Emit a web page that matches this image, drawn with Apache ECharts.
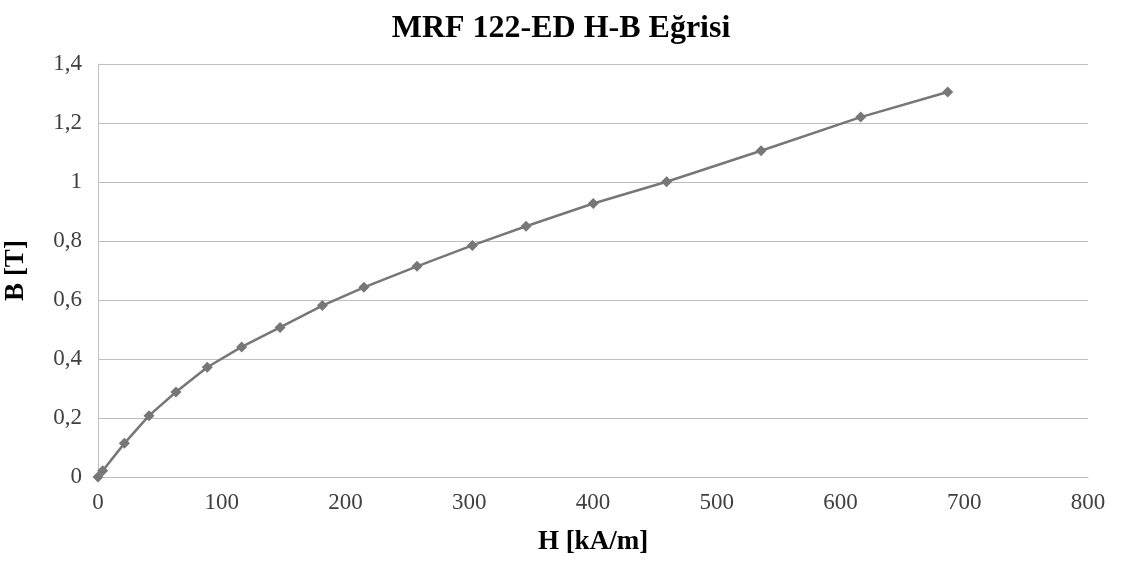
<!DOCTYPE html>
<html>
<head>
<meta charset="utf-8">
<script src="https://cdn.jsdelivr.net/npm/echarts@6/dist/echarts.min.js"></script>
<style>
  html, body { margin: 0; padding: 0; background: #fff; }
  #chart { width: 1122px; height: 563px; }
</style>
</head>
<body>
<div id="chart"></div>
<script>
// H [kA/m] ve B [T] değerleri
var hValues = [0, 3.8, 21.3, 41.2, 63.0, 88.3, 116.1, 147.1, 181.3, 214.9, 257.8, 302.5, 345.9, 400.2, 459.5, 535.8, 616.3, 686.6];
var bValues = [0, 0.021, 0.114, 0.208, 0.288, 0.372, 0.441, 0.507, 0.581, 0.643, 0.714, 0.785, 0.850, 0.927, 1.001, 1.106, 1.220, 1.305];

var serif = '"Liberation Serif", "DejaVu Serif", serif';

function commaLabel(v) {
  return String(+v.toFixed(1)).replace('.', ',');
}

var points = hValues.map(function (h, i) { return [h, bValues[i]]; });

var myChart = echarts.init(document.getElementById('chart'));
myChart.setOption({
  animation: false,
  title: {
    text: 'MRF 122-ED H-B Eğrisi',
    left: 'center',
    top: 8,
    textStyle: { fontFamily: serif, fontSize: 32, fontWeight: 'bold', color: '#000' }
  },
  grid: { left: 98, right: 34, top: 64, bottom: 86, outerBoundsMode: 'none' },
  xAxis: {
    type: 'value',
    min: 0,
    max: 800,
    interval: 100,
    name: 'H [kA/m]',
    nameLocation: 'middle',
    nameGap: 52,
    nameTextStyle: { fontFamily: serif, fontSize: 27, fontWeight: 'bold', color: '#000' },
    axisLine: { show: true, lineStyle: { color: '#bfbfbf', width: 1 } },
    axisTick: { show: false },
    axisLabel: { fontFamily: serif, fontSize: 23, color: '#404040', margin: 14 },
    splitLine: { show: false }
  },
  yAxis: {
    type: 'value',
    min: 0,
    max: 1.4,
    interval: 0.2,
    name: 'B [T]',
    nameLocation: 'middle',
    nameGap: 68,
    nameTextStyle: { fontFamily: serif, fontSize: 27, fontWeight: 'bold', color: '#000' },
    axisLine: { show: true, lineStyle: { color: '#bfbfbf', width: 1 } },
    axisTick: { show: false },
    axisLabel: { fontFamily: serif, fontSize: 23, color: '#404040', margin: 16, formatter: commaLabel },
    splitLine: { show: true, lineStyle: { color: '#bfbfbf', width: 1 } }
  },
  series: [{
    type: 'line',
    data: points,
    symbol: 'diamond',
    symbolSize: 11,
    lineStyle: { color: '#777777', width: 2.5 },
    itemStyle: { color: '#777777' }
  }]
});
</script>
</body>
</html>
